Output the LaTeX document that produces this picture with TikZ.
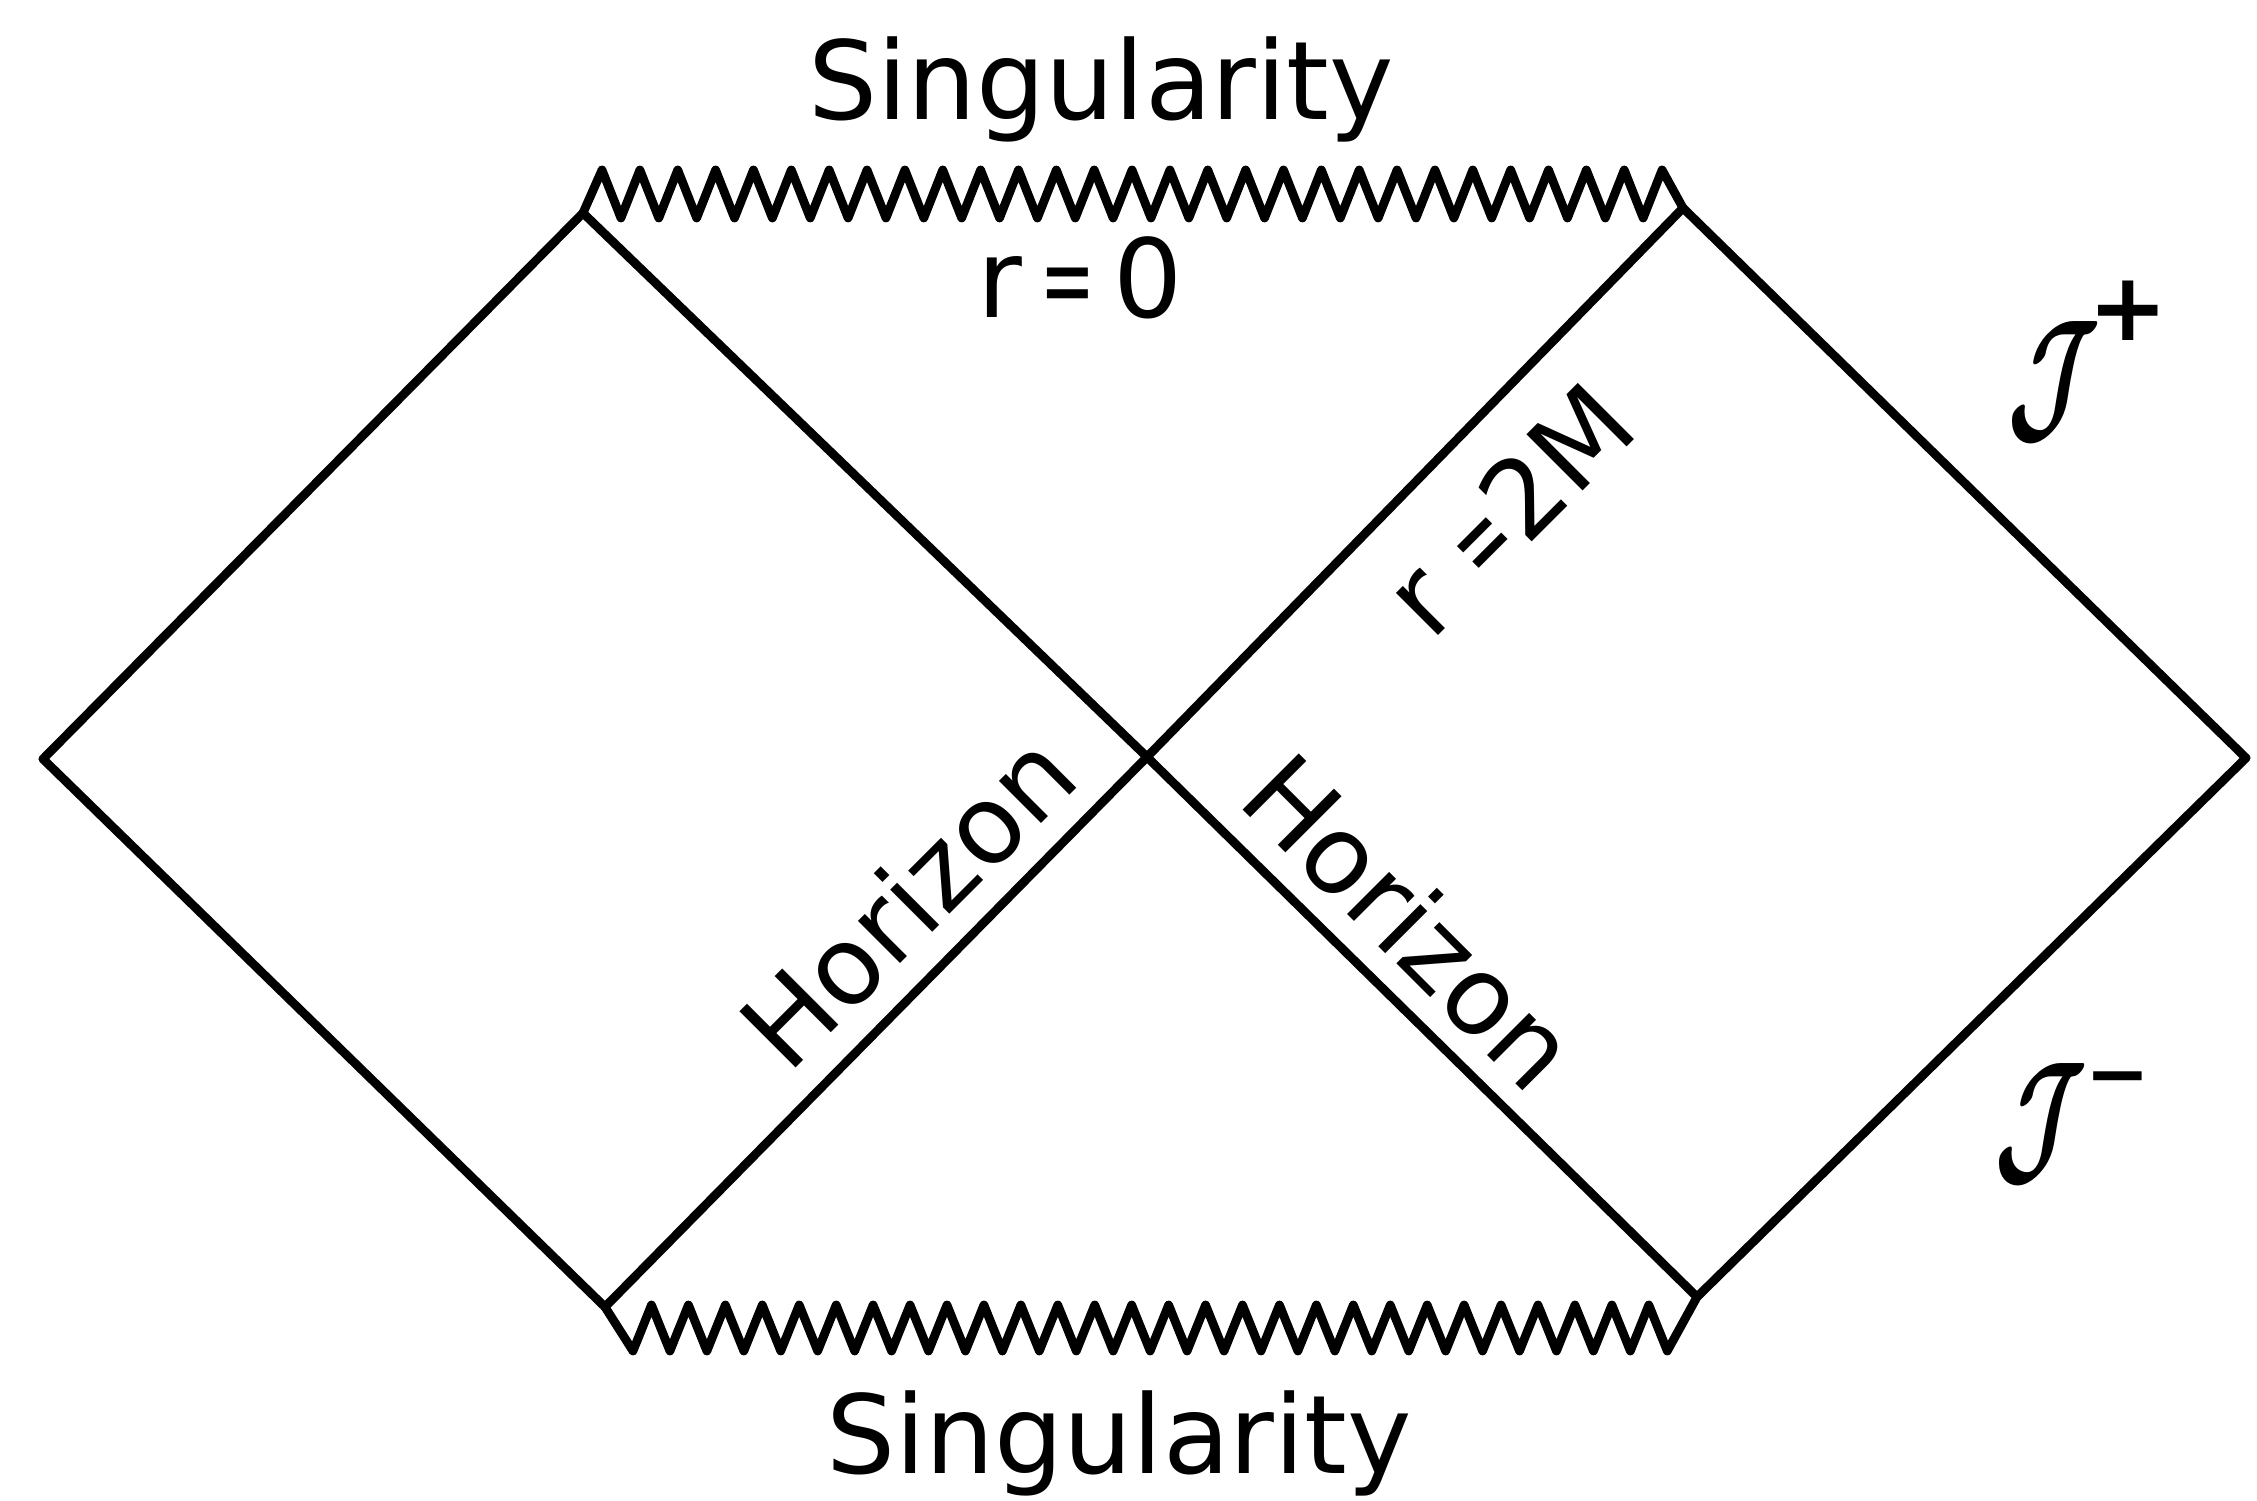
\documentclass[tikz,border=0pt]{standalone}
\usepackage{fontspec}
\setmainfont{DejaVu Sans}
\usepackage{graphicx}
\usepackage{bm}
\usetikzlibrary{positioning}
\newcommand{\nareq}{\scalebox{0.6}[1]{=}}
\newcommand{\scriJ}{\scalebox{1.1}[1.75]{$\bm{\mathcal{J}}$}}
\newcommand{\scrimarkfont}{\fontsize{22}{26}\selectfont\bfseries}
\newcommand{\scriplusfont}{\fontsize{27}{30}\selectfont\bfseries}
\tikzset{
	edge/.style={line width=2.5pt, line join=miter, line cap=round},
	sing/.style={line width=2.5pt, line join=round, line cap=round},
	lbl/.style={font=\fontsize{31}{36}\selectfont, inner sep=0pt},
	scri/.style={font=\fontsize{36}{44}\selectfont, inner sep=0pt},
}

\begin{document}
\begin{tikzpicture}
	\useasboundingbox (0,0) rectangle (22.57,15.01);
	
	% corners of the diagram
	\coordinate (L) at (0.43,7.42);
	\coordinate (R) at (22.46,7.43);
	\coordinate (C) at (11.47,7.44);
	\coordinate (TL) at (5.83,12.88);
	\coordinate (TR) at (16.83,12.93);
	\coordinate (BL) at (6.05,1.94);
	\coordinate (BR) at (16.97,2.04);
	
	% outer edges
	\draw[edge] (L) -- (TL);
	\draw[edge] (L) -- (BL);
	\draw[edge] (TR) -- (R);
	\draw[edge] (BR) -- (R);
	
	% horizons
	\draw[edge] (TL) -- (C) -- (BR);
	\draw[edge] (BL) -- (C) -- (TR);
	
	% singularities
	\draw[sing] (TL) -- (6.02,13.31)
	\foreach \k in {1,...,28} { -- ++(0.1893,-0.48) -- ++(0.1893,0.48) }
	-- (TR);
	\draw[sing] (BL) -- (6.33,1.50)
	\foreach \k in {1,...,28} { -- ++(0.1847,0.46) -- ++(0.1847,-0.46) }
	-- (BR);
	
	\node[
	lbl,
	anchor=base
	]
	(singtop) at (11.01,13.81)
	{Singularity};
	
	\node[
	lbl,
	anchor=base
	]
	(rzero) at (10.80,11.83)
	{r\,\nareq\,0};
	
	\node[
	lbl,
	rotate=45
	]
	(rtwom) at (15.08,9.92)
	{r \nareq2M};
	
	\node[
	lbl,
	rotate=45
	]
	(horleft) at (9.07,6.01)
	{Horizon};
	
	\node[
	lbl,
	rotate=-45
	]
	(horright) at (14.11,5.80)
	{Horizon};
	
	\node[
	lbl,
	anchor=base
	]
	(singbot) at (11.19,0.27)
	{Singularity};
	
	\node[
	scri,
	anchor=base west
	]
	(scriplus) at (20.07,10.74)
	{\scriJ\hspace{-0.12cm}\raisebox{0.86cm}{\scriplusfont +}};
	
	\node[
	scri,
	anchor=base west
	]
	(scriminus) at (19.94,3.32)
	{\scriJ\hspace{-0.02cm}\raisebox{0.68cm}{\scrimarkfont −}};
	
\end{tikzpicture}
\end{document}
